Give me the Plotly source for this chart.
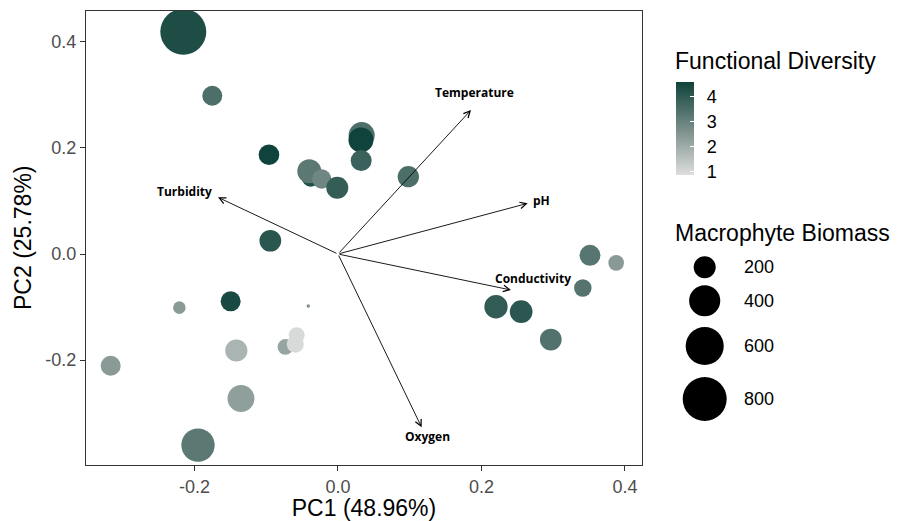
import plotly.graph_objects as go

# ---- data ----
pc1 = [-0.2156, -0.1752, -0.0962, -0.0380, -0.0400, -0.0227, -0.0010, 0.0330, 0.0320,
       0.0323, 0.0980, -0.0943, -0.2211, -0.1496, -0.0414, -0.1417, -0.0734, -0.0576,
       -0.0595, -0.3168, -0.1352, -0.1951, 0.3512, 0.3877, 0.3412, 0.2202, 0.2553, 0.2966]
pc2 = [0.4188, 0.2983, 0.1870, 0.1438, 0.1560, 0.1413, 0.1250, 0.2240, 0.2150,
       0.1760, 0.1457, 0.0250, -0.1010, -0.0892, -0.0980, -0.1818, -0.1750, -0.1530,
       -0.1700, -0.2104, -0.2723, -0.3600, -0.0025, -0.0166, -0.0640, -0.0993, -0.1087, -0.1611]
biomass = [875, 165, 177, 134, 238, 154, 200, 280, 258,
           182, 188, 195, 65, 165, 5, 204, 100, 106,
           120, 165, 300, 460, 182, 102, 127, 225, 213, 195]
func_div = [4.35, 3.49, 4.60, 4.30, 3.25, 2.90, 3.95, 3.50, 4.60,
            3.83, 3.49, 4.13, 2.43, 4.42, 2.66, 1.84, 2.19, 1.01,
            1.00, 2.43, 2.31, 3.25, 3.30, 2.45, 3.35, 4.00, 4.10, 3.40]

variables = ["Temperature", "pH", "Conductivity", "Oxygen", "Turbidity"]
load_pc1 = [0.1854, 0.2644, 0.2411, 0.1166, -0.1672]
load_pc2 = [0.2713, 0.0955, -0.0678, -0.3266, 0.1068]
label_pc1 = [0.1902, 0.2843, 0.2711, 0.1247, -0.2137]
label_pc2 = [0.3039, 0.1017, -0.0465, -0.3442, 0.1174]

x_ticks = [-0.2, 0.0, 0.2, 0.4]
x_ticktext = ["-0.2", "0.0", "0.2", "0.4"]
y_ticks = [-0.2, 0.0, 0.2, 0.4]
y_ticktext = ["-0.2", "0.0", "0.2", "0.4"]
fd_ticks = [1, 2, 3, 4]
fd_ticktext = ["1", "2", "3", "4"]
size_legend_vals = [200, 400, 600, 800]

# ---- styling ----
W, H = 907, 521
FONT = "Liberation Sans"
TITLE_SIZE = 23
TICK_SIZE = 18
SIZEREF = 2 / 1.555 ** 2
colorscale = [[0.0, "#dedede"], [0.5, "#778c88"], [1.0, "#0f433b"]]
CMIN, CMAX = 0.9, 4.6
LABEL_PAD = "\u00a0\u2009"

fig = go.Figure()

fig.add_trace(go.Scatter(
    x=pc1, y=pc2, mode="markers", showlegend=False, hoverinfo="skip",
    marker=dict(size=biomass, sizemode="area", sizeref=SIZEREF,
                color=func_div, colorscale=colorscale, cmin=CMIN, cmax=CMAX,
                line=dict(width=0), opacity=1,
                colorbar=dict(x=676 / W, xanchor="left", y=(H - 128) / H, yanchor="middle",
                              len=92.6, lenmode="pixels", thickness=18,
                              xpad=0, ypad=0, outlinewidth=0,
                              tickvals=fd_ticks,
                              ticktext=[LABEL_PAD + t for t in fd_ticktext],
                              ticks="inside", tickcolor="white",
                              ticklen=4, tickwidth=1,
                              tickfont=dict(family=FONT, size=TICK_SIZE, color="black"))),
    xaxis="x", yaxis="y"))

# size legend (own axes in pixel units)
leg_y = [267.3, 300.7, 346.0, 399.0]
fig.add_trace(go.Scatter(
    x=[704.7] * len(size_legend_vals), y=leg_y, mode="markers",
    showlegend=False, hoverinfo="skip",
    marker=dict(size=size_legend_vals, sizemode="area", sizeref=SIZEREF, color="black",
                line=dict(width=0), opacity=1),
    xaxis="x2", yaxis="y2"))

annotations = []
for name, lx, ly, tx, ty in zip(variables, load_pc1, load_pc2, label_pc1, label_pc2):
    annotations.append(dict(x=lx, y=ly, ax=0, ay=0, xref="x", yref="y", axref="x", ayref="y",
                            showarrow=True, arrowhead=5, arrowsize=1.4, arrowwidth=0.9,
                            arrowcolor="black", standoff=0, startstandoff=0, text=""))
    annotations.append(dict(x=tx, y=ty, xref="x", yref="y", text="<b>" + name + "</b>",
                            showarrow=False, xanchor="center", yanchor="middle",
                            font=dict(family="Open Sans", size=12, color="black")))

for lbl, yy in zip(size_legend_vals, leg_y):
    annotations.append(dict(x=742 / W, y=1 - yy / H, xref="paper", yref="paper",
                            text=str(lbl), showarrow=False, xanchor="left", yanchor="middle",
                            font=dict(family=FONT, size=TICK_SIZE, color="black")))

annotations.append(dict(x=673 / W, y=1 - 61 / H, xref="paper", yref="paper",
                        text="Functional Diversity", showarrow=False,
                        xanchor="left", yanchor="middle",
                        font=dict(family=FONT, size=TITLE_SIZE, color="black")))
annotations.append(dict(x=673 / W, y=1 - 233 / H, xref="paper", yref="paper",
                        text="Macrophyte Biomass", showarrow=False,
                        xanchor="left", yanchor="middle",
                        font=dict(family=FONT, size=TITLE_SIZE, color="black")))

axis_common = dict(showgrid=False, zeroline=False, showline=True, mirror=True,
                   linecolor="#333333", linewidth=1.1, ticks="outside", ticklen=5,
                   tickwidth=1.1, tickcolor="#333333", automargin=False,
                   tickfont=dict(family=FONT, size=TICK_SIZE, color="#4d4d4d"))

fig.update_layout(
    width=W, height=H, margin=dict(l=0, r=0, t=0, b=0),
    paper_bgcolor="white", plot_bgcolor="rgba(0,0,0,0)",
    xaxis=dict(domain=[86 / W, 642 / W], range=[-0.3512, 0.4237],
               tickvals=x_ticks, ticktext=x_ticktext,
               title=dict(text="PC1 (48.96%)", standoff=6,
                          font=dict(family=FONT, size=TITLE_SIZE, color="black")), **axis_common),
    yaxis=dict(domain=[56 / H, 510.5 / H], range=[-0.3975, 0.4588],
               tickvals=y_ticks, ticktext=y_ticktext,
               title=dict(text="PC2 (25.78%)", standoff=7,
                          font=dict(family=FONT, size=TITLE_SIZE, color="black")), **axis_common),
    xaxis2=dict(domain=[0, 1], range=[0, W], visible=False, anchor="y2"),
    yaxis2=dict(domain=[0, 1], range=[H, 0], visible=False, anchor="x2"),
    annotations=annotations,
)

fig.write_html("out.html", config={"displayModeBar": False},
               post_script="document.body.style.margin='0';document.body.style.padding='0';")
